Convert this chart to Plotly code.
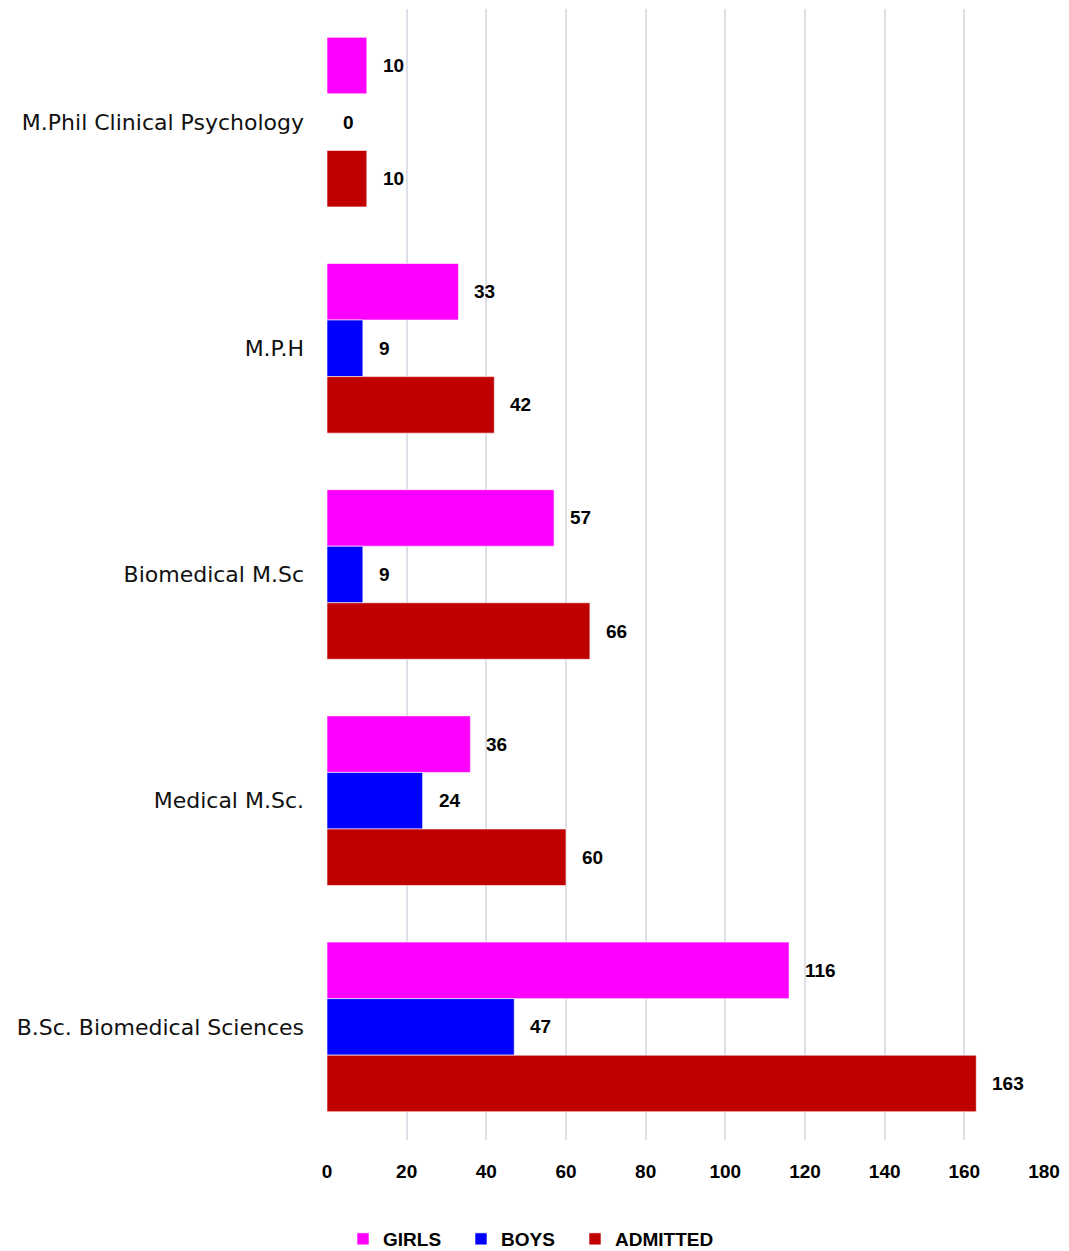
import plotly.graph_objects as go

# Programmes, listed top to bottom
programmes = [
    "M.Phil Clinical Psychology",
    "M.P.H",
    "Biomedical M.Sc",
    "Medical M.Sc.",
    "B.Sc. Biomedical Sciences",
]
girls = [10, 33, 57, 36, 116]
boys = [0, 9, 9, 24, 47]
admitted = [10, 42, 66, 60, 163]

x_ticks = [0, 20, 40, 60, 80, 100, 120, 140, 160, 180]

series = [
    ("GIRLS", girls, "#FF00FF", "legend"),
    ("BOYS", boys, "#0000FF", "legend"),
    ("ADMITTED", admitted, "#C00000", "legend2"),
]

num_family = "Liberation Sans, Arial"
label_font = dict(family=num_family, size=19, color="#000000")
legend_font = dict(family=num_family, size=19, color="#000000", weight="bold")

fig = go.Figure()
for name, values, color, leg in series:
    fig.add_trace(go.Bar(
        name=name,
        y=programmes,
        x=values,
        orientation="h",
        legend=leg,
        marker=dict(color=color, line=dict(color="#ffffff", width=0.6)),
    ))

# Value labels to the right of each bar
plot_h = 1251 - 9 - 111
bar_h = plot_h / len(programmes) * 0.75 / 3
shifts = [bar_h, 0, -bar_h]
annotations = []
for (name, values, color, leg), dy in zip(series, shifts):
    for prog, v in zip(programmes, values):
        annotations.append(dict(
            x=v, y=prog, xref="x", yref="y",
            text=f"<b>{v}</b>", showarrow=False,
            xanchor="left", yanchor="middle",
            xshift=14, yshift=dy,
            font=label_font,
        ))

legend_y = 1 - 1239 / 1251

fig.update_layout(
    width=1069, height=1251,
    margin=dict(l=327, r=23, t=9, b=111),
    paper_bgcolor="#ffffff",
    plot_bgcolor="#ffffff",
    barmode="group",
    bargap=0.25,
    bargroupgap=0,
    annotations=annotations,
    showlegend=True,
    legend=dict(
        orientation="h",
        xref="container", yref="container",
        x=343 / 1069, xanchor="left",
        y=legend_y, yanchor="middle",
        entrywidth=73,
        font=legend_font,
        traceorder="normal",
    ),
    legend2=dict(
        orientation="h",
        xref="container", yref="container",
        x=575 / 1069, xanchor="left",
        y=legend_y, yanchor="middle",
        font=legend_font,
    ),
    xaxis=dict(
        range=[0, 180],
        tickvals=x_ticks,
        ticktext=[str(t) for t in x_ticks],
        showgrid=True,
        gridcolor="#dde1e7",
        gridwidth=1.5,
        zeroline=False,
        showline=False,
        ticks="",
        ticklabelstandoff=18,
        tickfont=dict(family=num_family, size=19, color="#000000", weight="bold"),
    ),
    yaxis=dict(
        categoryorder="array",
        categoryarray=programmes,
        autorange="reversed",
        showgrid=False,
        zeroline=False,
        showline=False,
        ticks="",
        ticklabelstandoff=22,
        tickfont=dict(family="DejaVu Sans", size=22, color="#111111"),
    ),
)

fig.write_html("out.html")
